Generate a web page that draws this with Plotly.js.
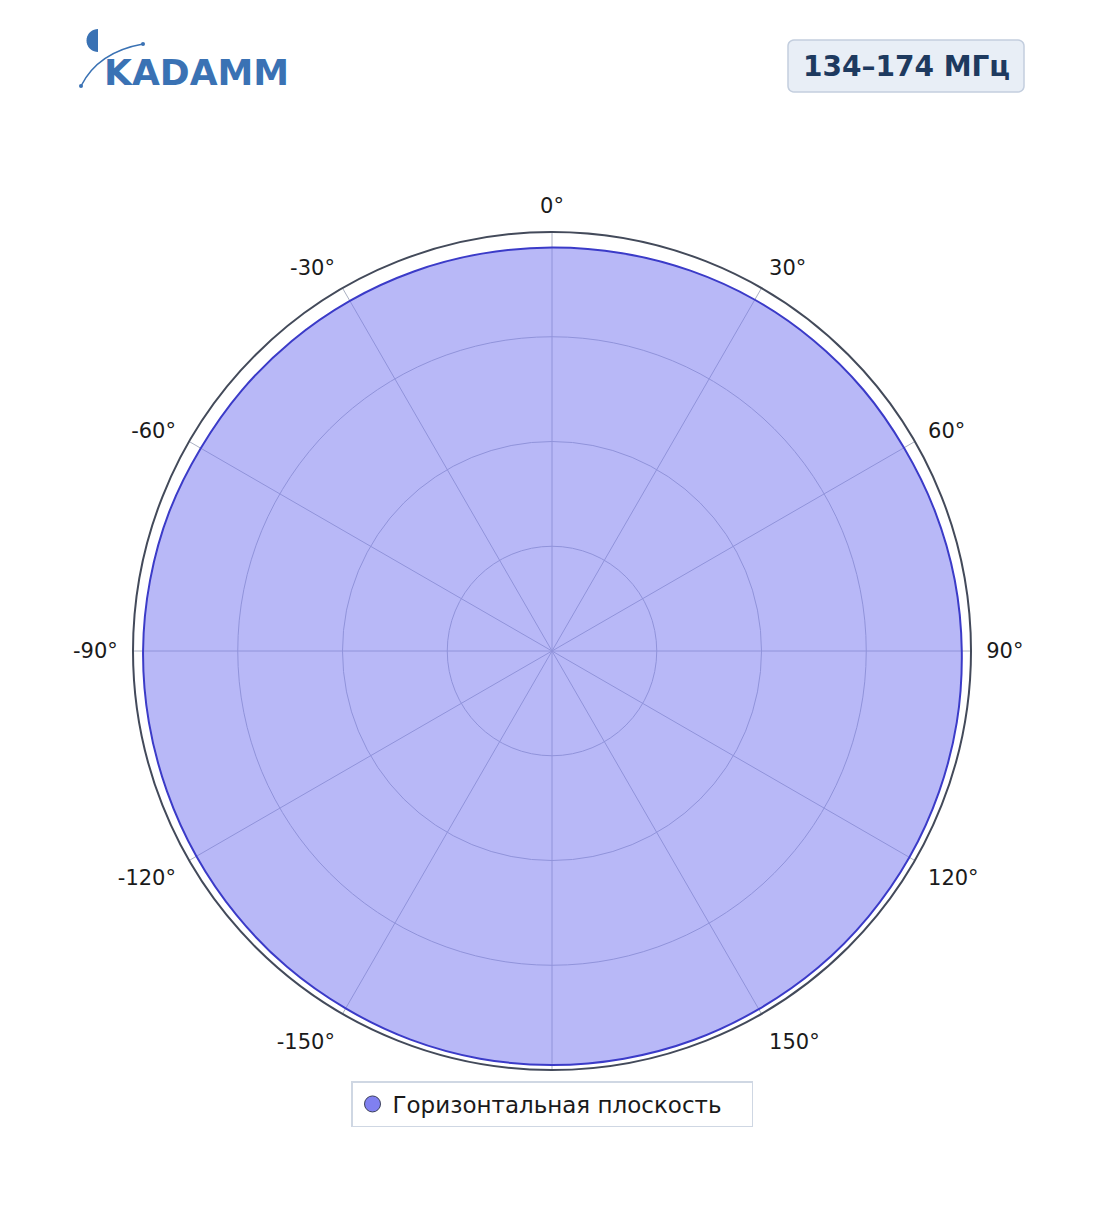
<!DOCTYPE html>
<html>
<head>
<meta charset="utf-8">
<script src="https://cdn.plot.ly/plotly-3.0.1.min.js"></script>
<style>html,body{margin:0;padding:0;background:#fff;}#chart{width:1104px;height:1211px;}</style>
</head>
<body>
<div id="chart"></div>
<script>
// ---- data ----
const thetaDeg = [0,10,20,30,40,50,60,70,80,90,100,110,120,130,140,150,160,170,180,190,200,210,220,230,240,250,260,270,280,290,300,310,320,330,340,350,360];
const gainH = [0.963,0.964,0.966,0.968,0.969,0.970,0.970,0.973,0.976,0.978,0.981,0.983,0.985,0.986,0.987,0.987,0.988,0.988,0.988,0.988,0.987,0.985,0.984,0.982,0.980,0.978,0.977,0.976,0.974,0.972,0.968,0.967,0.966,0.965,0.964,0.963,0.963];
const tickVals = [0,30,60,90,120,150,180,210,240,270,300,330];
const tickText = ['0°','30°','60°','90°','120°','150°','','-150°','-120°','-90°','-60°','-30°'];
const seriesName = 'Горизонтальная плоскость';
const bandText = '134–174 МГц';
const logoText = 'KADAMM';

// ---- layout helpers (pixel -> paper) ----
const L = 133, R = 971, T = 232, B = 1070;
const W = R - L, H = B - T;
const px = x => (x - L) / W;
const py = y => (B - y) / H;

const traces = [
  {
    type: 'scatterpolar',
    r: gainH,
    theta: thetaDeg,
    mode: 'lines',
    fill: 'toself',
    fillcolor: 'rgba(120,120,240,0.53)',
    line: {color: '#3b3bc8', width: 2, shape: 'spline', smoothing: 1},
    showlegend: false,
    hoverinfo: 'skip'
  },
  {
    type: 'scatterpolar',
    r: [null],
    theta: [null],
    mode: 'markers',
    name: seriesName,
    marker: {color: '#8080f0', size: 20, line: {color: '#3a3f5a', width: 1}},
    showlegend: true
  }
];

const logoBlue = '#3a72b4';
const arcPath = 'M ' + px(81) + ' ' + py(86) + ' Q ' + px(98) + ' ' + py(52) + ' ' + px(143) + ' ' + py(44);

// half disk (left half of circle), built as polygon in paper coords
function halfDiskPath(cx, cy, rad) {
  let p = 'M ' + px(cx) + ' ' + py(cy - rad);
  for (let a = 0; a <= 180; a += 10) {
    const t = a * Math.PI / 180;
    p += ' L ' + px(cx - rad * Math.sin(t)) + ' ' + py(cy - rad * Math.cos(t));
  }
  return p + ' Z';
}
function roundRect(x0, y0, x1, y1, rr) {
  let p = 'M ' + px(x0 + rr) + ' ' + py(y0);
  const corners = [[x1 - rr, y0 + rr, -90], [x1 - rr, y1 - rr, 0], [x0 + rr, y1 - rr, 90], [x0 + rr, y0 + rr, 180]];
  corners.forEach(c => {
    for (let a = 0; a <= 90; a += 15) {
      const t = (c[2] + a) * Math.PI / 180;
      p += ' L ' + px(c[0] + rr * Math.cos(t)) + ' ' + py(c[1] + rr * Math.sin(t));
    }
  });
  return p + ' Z';
}

const layout = {
  width: 1104,
  height: 1211,
  margin: {l: L, r: 1104 - R, t: T, b: 1211 - B},
  paper_bgcolor: '#ffffff',
  font: {family: 'DejaVu Sans', size: 21, color: '#1a1a1a'},
  polar: {
    bgcolor: '#ffffff',
    domain: {x: [0, 1], y: [0, 1]},
    angularaxis: {
      rotation: 90,
      direction: 'clockwise',
      tickmode: 'array',
      tickvals: tickVals,
      ticktext: tickText,
      ticks: 'outside',
      ticklen: 10,
      tickcolor: 'rgba(0,0,0,0)',
      showline: true,
      linecolor: '#434a5a',
      linewidth: 2,
      gridcolor: '#aab0c2',
      gridwidth: 1,
      tickfont: {family: 'DejaVu Sans', size: 21, color: '#1a1a1a'}
    },
    radialaxis: {
      range: [0, 1],
      tickmode: 'linear',
      tick0: 0,
      dtick: 0.25,
      showticklabels: false,
      ticks: '',
      showline: false,
      gridcolor: '#aab0c2',
      gridwidth: 1
    }
  },
  showlegend: true,
  legend: {
    orientation: 'h',
    x: 0.5,
    xanchor: 'center',
    y: py(1081),
    yanchor: 'top',
    bgcolor: '#ffffff',
    bordercolor: '#cfd7e3',
    borderwidth: 1.5,
    itemsizing: 'trace',
    entrywidth: 354,
    font: {family: 'DejaVu Sans', size: 23, color: '#1a1a1a'}
  },
  annotations: [
    {
      xref: 'paper', yref: 'paper',
      x: px(906), y: py(66),
      xanchor: 'center', yanchor: 'middle',
      text: '<b>' + bandText + '</b>',
      showarrow: false,
      font: {family: 'DejaVu Sans', size: 28, color: '#1e3a5f'}
    },
    {
      xref: 'paper', yref: 'paper',
      x: px(102), y: py(72),
      xanchor: 'left', yanchor: 'middle',
      text: '<b>' + logoText + '</b>',
      showarrow: false,
      font: {family: 'DejaVu Sans', size: 36, color: logoBlue}
    }
  ],
  shapes: [
    {type: 'path', xref: 'paper', yref: 'paper', path: roundRect(788, 40, 1024, 92, 6), fillcolor: '#e8eef6', line: {color: '#c3cede', width: 1.5}, layer: 'below'},
    {type: 'path', xref: 'paper', yref: 'paper', path: halfDiskPath(98, 40.5, 11.5), fillcolor: logoBlue, line: {width: 0}},
    {type: 'path', xref: 'paper', yref: 'paper', path: arcPath, line: {color: logoBlue, width: 1.5}},
    {type: 'circle', xref: 'paper', yref: 'paper', x0: px(79), x1: px(83), y0: py(84), y1: py(88), fillcolor: logoBlue, line: {width: 0}},
    {type: 'circle', xref: 'paper', yref: 'paper', x0: px(141), x1: px(145), y0: py(42), y1: py(46), fillcolor: logoBlue, line: {width: 0}}
  ]
};

Plotly.newPlot('chart', traces, layout, {displayModeBar: false, staticPlot: true});
</script>
</body>
</html>
